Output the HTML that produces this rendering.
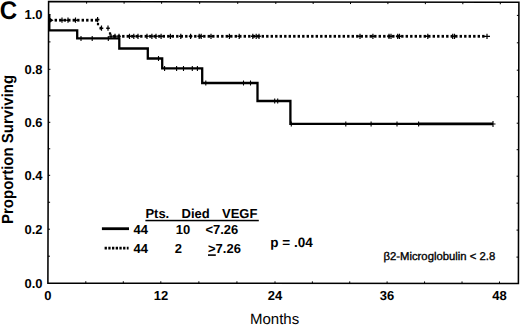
<!DOCTYPE html>
<html><head><meta charset="utf-8">
<style>
html,body{margin:0;padding:0;background:#fff;}
body{width:520px;height:325px;overflow:hidden;}
svg{display:block;}
text{font-family:"Liberation Sans",sans-serif;fill:#000;text-rendering:geometricPrecision;}
.b{font-weight:bold;}
</style></head><body>
<svg width="520" height="325" viewBox="0 0 520 325">
<rect x="0" y="0" width="520" height="325" fill="#fff"/>
<path d="M48.6 1.6L518.9 2.3L518.4 283.5L47.9 283.2Z" fill="none" stroke="#000" stroke-width="1.55"/>
<g stroke="#000" stroke-width="1"><path d="M47.97 256.20h2M518.45 257.10h-2M48.03 229.20h2M518.50 230.10h-2M48.10 202.25h2M518.54 203.15h-2M48.17 175.30h2M518.59 176.20h-2M48.23 148.80h2M518.64 149.70h-2M48.30 122.30h2M518.69 123.20h-2M48.37 95.80h2M518.73 96.70h-2M48.43 69.30h2M518.78 70.20h-2M48.50 41.90h2M518.83 42.80h-2M48.57 14.50h2M518.88 15.40h-2M85.80 283.22v-2M86.60 1.66v2M123.30 283.25v-2M124.10 1.71v2M160.80 283.27v-2M161.60 1.77v2M198.87 283.30v-2M199.67 1.82v2M236.93 283.32v-2M237.73 1.88v2M275.00 283.34v-2M275.80 1.94v2M312.37 283.37v-2M313.17 1.99v2M349.73 283.39v-2M350.53 2.05v2M387.10 283.42v-2M387.90 2.11v2M424.57 283.44v-2M425.37 2.16v2M462.03 283.46v-2M462.83 2.22v2M499.50 283.49v-2M500.30 2.27v2"/></g>
<g class="b" font-size="13" text-anchor="end">
<text x="42.5" y="19.4">1.0</text>
<text x="42.5" y="73.9">0.8</text>
<text x="42.5" y="126.9">0.6</text>
<text x="42.5" y="179.9">0.4</text>
<text x="42.5" y="234.1">0.2</text>
<text x="42.5" y="287.6">0.0</text>
</g>
<g class="b" font-size="13" text-anchor="middle">
<text x="47.8" y="300.4">0</text>
<text x="161" y="300.4">12</text>
<text x="275" y="300.4">24</text>
<text x="387.1" y="300.4">36</text>
<text x="499.5" y="300.4">48</text>
</g>
<text x="274.6" y="324.3" font-size="15" text-anchor="middle">Months</text>
<text class="b" font-size="15" text-anchor="middle" transform="translate(12.7,149.4) rotate(-90) scale(1,1.07)">Proportion Surviving</text>
<text class="b" font-size="25.6" transform="translate(-0.2,19.1) scale(0.94,1)">C</text>

<path d="M49.3 15V30.4H77.2V38.4H119.3V48.5H147.8V58.5H162.2V68.4H202.2V83H257.5V101H290.4V123.9H418.5" fill="none" stroke="#000" stroke-width="2.3"/>
<path d="M418 123.9H493" fill="none" stroke="#000" stroke-width="2.9"/>
<path d="M81 35.90v5M92.2 35.90v5M108.3 35.90v5M158.5 56.00v5M164.6 65.90v5M176.6 65.90v5M183.5 65.90v5M192.3 65.90v5M197.4 65.90v5M205.8 80.50v5M243.5 80.50v5M250.5 80.50v5M274.7 98.50v5M277.7 98.50v5M291.3 121.40v5M345.8 121.40v5M371.1 121.40v5M397 121.40v5M418.6 121.40v5M493 121v6M490.5 124h5" stroke="#000" stroke-width="1.1" fill="none"/>

<g fill="#000"><rect x="54.60" y="18.80" width="2.4" height="2.8"/><rect x="59.10" y="18.80" width="2.4" height="2.8"/><rect x="63.60" y="18.80" width="2.4" height="2.8"/><rect x="68.10" y="18.80" width="2.4" height="2.8"/><rect x="72.60" y="18.80" width="2.4" height="2.8"/><rect x="77.10" y="18.80" width="2.4" height="2.8"/><rect x="81.60" y="18.80" width="2.4" height="2.8"/><rect x="86.10" y="18.80" width="2.4" height="2.8"/><rect x="90.60" y="18.80" width="2.4" height="2.8"/><rect x="95.10" y="18.80" width="2.4" height="2.8"/><rect x="99.60" y="26.80" width="2.4" height="2.8"/><rect x="113.10" y="34.90" width="2.4" height="2.8"/><rect x="117.60" y="34.90" width="2.4" height="2.8"/><rect x="122.10" y="34.90" width="2.4" height="2.8"/><rect x="126.60" y="34.90" width="2.4" height="2.8"/><rect x="131.10" y="34.90" width="2.4" height="2.8"/><rect x="135.60" y="34.90" width="2.4" height="2.8"/><rect x="140.10" y="34.90" width="2.4" height="2.8"/><rect x="144.60" y="34.90" width="2.4" height="2.8"/><rect x="149.10" y="34.90" width="2.4" height="2.8"/><rect x="153.60" y="34.90" width="2.4" height="2.8"/><rect x="158.10" y="34.90" width="2.4" height="2.8"/><rect x="162.60" y="34.90" width="2.4" height="2.8"/><rect x="167.10" y="34.90" width="2.4" height="2.8"/><rect x="171.60" y="34.90" width="2.4" height="2.8"/><rect x="176.10" y="34.90" width="2.4" height="2.8"/><rect x="180.60" y="34.90" width="2.4" height="2.8"/><rect x="185.10" y="34.90" width="2.4" height="2.8"/><rect x="189.60" y="34.90" width="2.4" height="2.8"/><rect x="194.10" y="34.90" width="2.4" height="2.8"/><rect x="198.60" y="34.90" width="2.4" height="2.8"/><rect x="203.10" y="34.90" width="2.4" height="2.8"/><rect x="207.60" y="34.90" width="2.4" height="2.8"/><rect x="212.10" y="34.90" width="2.4" height="2.8"/><rect x="216.60" y="34.90" width="2.4" height="2.8"/><rect x="221.10" y="34.90" width="2.4" height="2.8"/><rect x="225.60" y="34.90" width="2.4" height="2.8"/><rect x="230.10" y="34.90" width="2.4" height="2.8"/><rect x="234.60" y="34.90" width="2.4" height="2.8"/><rect x="239.10" y="34.90" width="2.4" height="2.8"/><rect x="243.60" y="34.90" width="2.4" height="2.8"/><rect x="248.10" y="34.90" width="2.4" height="2.8"/><rect x="252.60" y="34.90" width="2.4" height="2.8"/><rect x="257.10" y="34.90" width="2.4" height="2.8"/><rect x="261.60" y="34.90" width="2.4" height="2.8"/><rect x="266.10" y="34.90" width="2.4" height="2.8"/><rect x="270.60" y="34.90" width="2.4" height="2.8"/><rect x="275.10" y="34.90" width="2.4" height="2.8"/><rect x="279.60" y="34.90" width="2.4" height="2.8"/><rect x="284.10" y="34.90" width="2.4" height="2.8"/><rect x="288.60" y="34.90" width="2.4" height="2.8"/><rect x="293.10" y="34.90" width="2.4" height="2.8"/><rect x="297.60" y="34.90" width="2.4" height="2.8"/><rect x="302.10" y="34.90" width="2.4" height="2.8"/><rect x="306.60" y="34.90" width="2.4" height="2.8"/><rect x="311.10" y="34.90" width="2.4" height="2.8"/><rect x="315.60" y="34.90" width="2.4" height="2.8"/><rect x="320.10" y="34.90" width="2.4" height="2.8"/><rect x="324.60" y="34.90" width="2.4" height="2.8"/><rect x="329.10" y="34.90" width="2.4" height="2.8"/><rect x="333.60" y="34.90" width="2.4" height="2.8"/><rect x="338.10" y="34.90" width="2.4" height="2.8"/><rect x="342.60" y="34.90" width="2.4" height="2.8"/><rect x="347.10" y="34.90" width="2.4" height="2.8"/><rect x="351.60" y="34.90" width="2.4" height="2.8"/><rect x="356.10" y="34.90" width="2.4" height="2.8"/><rect x="360.60" y="34.90" width="2.4" height="2.8"/><rect x="365.10" y="34.90" width="2.4" height="2.8"/><rect x="369.60" y="34.90" width="2.4" height="2.8"/><rect x="374.10" y="34.90" width="2.4" height="2.8"/><rect x="378.60" y="34.90" width="2.4" height="2.8"/><rect x="383.10" y="34.90" width="2.4" height="2.8"/><rect x="387.60" y="34.90" width="2.4" height="2.8"/><rect x="392.10" y="34.90" width="2.4" height="2.8"/><rect x="396.60" y="34.90" width="2.4" height="2.8"/><rect x="401.10" y="34.90" width="2.4" height="2.8"/><rect x="405.60" y="34.90" width="2.4" height="2.8"/><rect x="410.10" y="34.90" width="2.4" height="2.8"/><rect x="414.60" y="34.90" width="2.4" height="2.8"/><rect x="419.10" y="34.90" width="2.4" height="2.8"/><rect x="423.60" y="34.90" width="2.4" height="2.8"/><rect x="428.10" y="34.90" width="2.4" height="2.8"/><rect x="432.60" y="34.90" width="2.4" height="2.8"/><rect x="437.10" y="34.90" width="2.4" height="2.8"/><rect x="441.60" y="34.90" width="2.4" height="2.8"/><rect x="446.10" y="34.90" width="2.4" height="2.8"/><rect x="450.60" y="34.90" width="2.4" height="2.8"/><rect x="455.10" y="34.90" width="2.4" height="2.8"/><rect x="459.60" y="34.90" width="2.4" height="2.8"/><rect x="464.10" y="34.90" width="2.4" height="2.8"/><rect x="468.60" y="34.90" width="2.4" height="2.8"/><rect x="473.10" y="34.90" width="2.4" height="2.8"/><rect x="477.60" y="34.90" width="2.4" height="2.8"/><rect x="482.10" y="34.90" width="2.4" height="2.8"/><rect x="96.9" y="22.9" width="2.2" height="2.4"/><rect x="108.9" y="32.3" width="2.2" height="2.4"/></g>
<path d="M62 17.60v5.2M68 17.60v5.2M75.5 17.60v5.2M97.6 17.00v5.2M101.5 25.60v5.2M108 25.60v5.2M111 33.70v5.2M115 33.70v5.2M119 33.70v5.2M129.5 33.70v5.2M133.8 33.70v5.2M138 33.70v5.2M147 33.70v5.2M151.9 33.70v5.2M156 33.70v5.2M161.1 33.70v5.2M170.4 33.70v5.2M180.8 33.70v5.2M190.6 33.70v5.2M199.2 33.70v5.2M201.2 33.70v5.2M211 33.70v5.2M229.4 33.70v5.2M239.2 33.70v5.2M252.8 33.70v5.2M256.2 33.70v5.2M259 33.70v5.2M360 33.70v5.2M372.9 33.70v5.2M389 33.70v5.2M391 33.70v5.2M397.7 33.70v5.2M399.5 33.70v5.2M427.8 33.70v5.2M452.7 33.70v5.2M454.5 33.70v5.2" stroke="#000" stroke-width="1.2" fill="none"/>
<path d="M60.20 20.2h3.6M66.20 20.2h3.6M73.70 20.2h3.6M95.80 19.6h3.6M99.70 28.2h3.6M106.20 28.2h3.6M109.20 36.3h3.6M113.20 36.3h3.6M117.20 36.3h3.6M127.70 36.3h3.6M132.00 36.3h3.6M136.20 36.3h3.6M145.20 36.3h3.6M150.10 36.3h3.6M154.20 36.3h3.6M159.30 36.3h3.6M168.60 36.3h3.6M179.00 36.3h3.6M188.80 36.3h3.6M197.40 36.3h3.6M199.40 36.3h3.6M209.20 36.3h3.6M227.60 36.3h3.6M237.40 36.3h3.6M251.00 36.3h3.6M254.40 36.3h3.6M257.20 36.3h3.6M358.20 36.3h3.6M371.10 36.3h3.6M387.20 36.3h3.6M389.20 36.3h3.6M395.90 36.3h3.6M397.70 36.3h3.6M426.00 36.3h3.6M450.90 36.3h3.6M452.70 36.3h3.6" stroke="#000" stroke-width="1.6" fill="none"/>
<path d="M49.5 17.5L53.5 20.2L49.5 23Z" fill="#000"/>
<path d="M487 33.8v5.2M484 36.3h6" stroke="#000" stroke-width="1.2"/>

<g class="b" font-size="13">
<text x="145.4" y="218.2">Pts.</text>
<text x="181.5" y="218.2">Died</text>
<text x="222" y="218.2">VEGF</text>
<text x="133.6" y="234.2">44</text>
<text x="175.7" y="234">10</text>
<text x="205.4" y="234">&lt;7.26</text>
<text x="133.6" y="252.7">44</text>
<text x="174.8" y="252.7">2</text>
<text x="208" y="252.6">&gt;7.26</text>
<text x="270.3" y="246.8" font-size="13.5">p = .04</text>
</g>
<rect x="145.4" y="219.8" width="113.4" height="1.5" fill="#000"/>
<rect x="208" y="254.3" width="7.8" height="1.6" fill="#000"/>
<path d="M101.9 228.7H129" stroke="#000" stroke-width="2.8"/>
<path d="M104.6 248.2H128.6" stroke="#000" stroke-width="2.8" stroke-dasharray="2.3 1.4"/>
<text x="383.5" y="260.4" font-size="11.3" stroke="#000" stroke-width="0.35">β2-Microglobulin &lt; 2.8</text>
</svg>
</body></html>
